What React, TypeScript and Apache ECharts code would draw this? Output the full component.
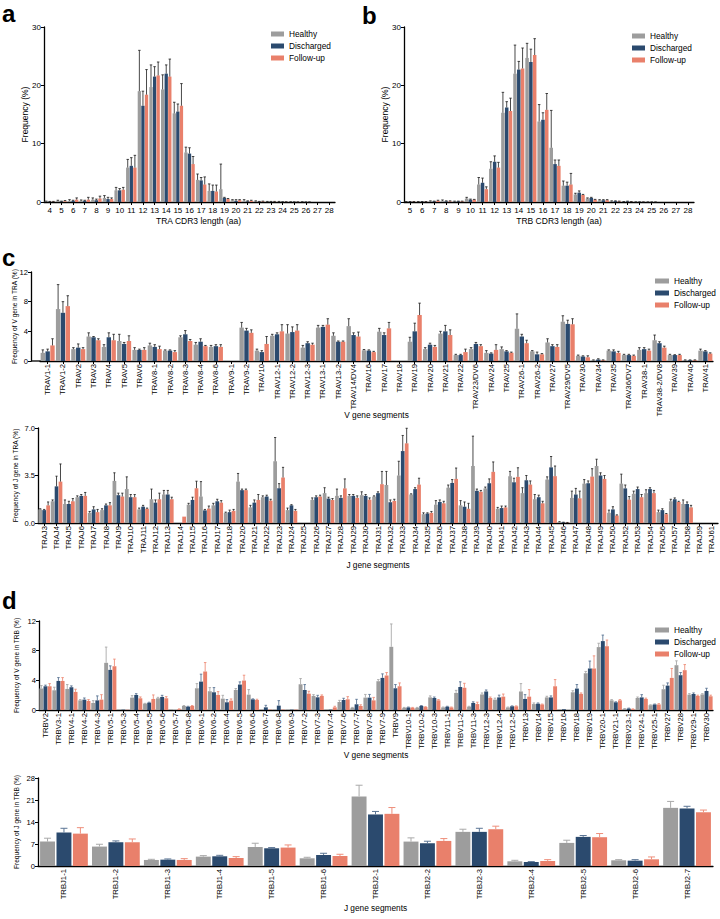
import React, { useEffect, useRef } from "react";
import * as echarts from "echarts";

const FONT = "'Liberation Sans', Arial, Helvetica, sans-serif";
const SERIES_NAMES = ["Healthy", "Discharged", "Follow-up"];
const BAR_COLORS = ["#9d9d9d", "#2b4a6e", "#e9806b"];
const ERR_BLACK = ["#1a1a1a", "#1a1a1a", "#1a1a1a"];
const ERR_COLORED = ["#a9a9a9", "#5b7594", "#ee8f7b"];

// ---------- a: TRA CDR3 length ----------
const traLenCats = ["4","5","6","7","8","9","10","11","12","13","14","15","16","17","18","19","20","21","22","23","24","25","26","27","28"];
const traLenHealthy =      [0.1,0.2,0.2,0.2,0.4,0.7,2.0,5.9,19.0,19.7,19.3,15.2,8.5,3.8,1.9,2.2,0.3,0.2,0.1,0.05,0.05,0.02,0.02,0,0];
const traLenHealthyHi =    [0.15,0.3,0.4,0.35,0.7,1.1,2.5,7.3,26.0,23.5,21.8,17.1,9.4,4.8,3.1,6.5,0.4,0.4,0.2,0.1,0.1,0.05,0.05,0,0];
const traLenDischarged =   [0.05,0.1,0.2,0.2,0.3,0.5,2.0,6.2,16.5,21.5,22.0,15.5,8.3,3.7,1.9,0.7,0.2,0.1,0.05,0.05,0.03,0.02,0.01,0,0];
const traLenDischargedHi = [0.1,0.15,0.3,0.3,0.5,0.8,2.3,7.6,19.0,23.2,23.5,16.8,9.3,4.2,2.9,0.8,0.4,0.2,0.1,0.1,0.05,0.03,0.02,0,0];
const traLenFollowup =     [0.05,0.15,0.4,0.4,0.6,0.5,2.1,5.9,18.4,21.7,21.5,16.5,6.5,3.0,1.8,0.5,0.3,0.2,0.1,0.05,0.03,0.02,0.01,0,0];
const traLenFollowupHi =   [0.1,0.25,0.7,0.8,1.0,0.7,2.5,8.0,22.7,24.0,24.5,20.3,7.8,4.3,2.9,0.6,0.4,0.3,0.15,0.1,0.05,0.03,0.02,0,0];

// ---------- b: TRB CDR3 length ----------
const trbLenCats = ["5","6","7","8","9","10","11","12","13","14","15","16","17","18","19","20","21","22","23","24","25","26","27","28"];
const trbLenHealthy =      [0.05,0.05,0.1,0.2,0.1,0.6,3.0,5.7,15.3,22.0,24.7,13.8,9.3,2.8,1.3,0.6,0.3,0.1,0.05,0.02,0.01,0,0,0];
const trbLenHealthyHi =    [0.08,0.08,0.2,0.35,0.15,0.8,4.2,6.9,18.8,26.9,27.2,16.7,15.7,3.6,1.5,0.7,0.4,0.2,0.08,0.03,0.02,0,0,0];
const trbLenDischarged =   [0.05,0.05,0.1,0.1,0.1,0.4,3.3,6.9,16.2,22.7,24.0,14.1,6.5,2.8,1.6,0.7,0.3,0.15,0.1,0.02,0.01,0,0,0];
const trbLenDischargedHi = [0.08,0.08,0.15,0.2,0.15,0.5,4.1,7.9,17.2,24.1,26.2,15.3,7.2,3.4,1.9,0.8,0.4,0.2,0.15,0.03,0.02,0,0,0];
const trbLenFollowup =     [0.05,0.05,0.2,0.1,0.1,0.4,2.2,5.9,15.6,22.9,25.2,15.8,6.2,3.0,1.2,0.4,0.3,0.1,0.05,0.02,0.01,0,0,0];
const trbLenFollowupHi =   [0.08,0.08,0.3,0.2,0.15,0.45,2.6,6.8,17.8,26.4,28.0,18.6,7.2,4.9,1.3,0.45,0.4,0.15,0.08,0.03,0.02,0,0,0];

// ---------- c (top): TRAV ----------
const travCats = ["TRAV1-1","TRAV1-2","TRAV2","TRAV3","TRAV4","TRAV5","TRAV6","TRAV8-1","TRAV8-2","TRAV8-3","TRAV8-4","TRAV8-6","TRAV9-1","TRAV9-2","TRAV10","TRAV12-1","TRAV12-2","TRAV12-3","TRAV13-1","TRAV13-2","TRAV14/DV4","TRAV16","TRAV17","TRAV18","TRAV19","TRAV20","TRAV21","TRAV22","TRAV23/DV6","TRAV24","TRAV25","TRAV26-1","TRAV26-2","TRAV27","TRAV29/DV5","TRAV30","TRAV34","TRAV35","TRAV36/DV7","TRAV38-1","TRAV38-2/DV8","TRAV39","TRAV40","TRAV41"];
const travHealthy =      [1.1,7.0,1.6,3.3,1.9,2.7,1.5,2.1,1.4,3.2, 2.2,1.9,0,4.5,1.4,3.4,3.7,1.8,4.5,3.4, 4.7,1.45,3.95,0,2.6,1.6,3.7,0.8,1.6,1.1, 1.6,4.35,1.3,2.5,5.3,0.7,0.1,1.4,0.8,1.5, 2.8,0.8,0.1,1.4];
const travHealthyHi =    [1.5,10.3,1.8,3.8,2.2,3.6,1.8,2.4,1.5,3.4, 2.5,2.1,0,5.2,1.6,3.6,4.9,2.1,4.8,3.8, 5.7,1.55,4.4,0,3.2,1.8,4.0,0.9,1.8,1.4, 1.9,6.35,1.4,3.0,6.1,0.8,0.15,1.5,0.9,1.8, 3.5,0.9,0.15,1.6];
const travDischarged =   [1.3,6.5,1.8,3.2,3.2,2.3,1.5,1.9,1.4,3.6, 2.6,2.0,0,4.1,1.2,3.6,3.9,2.4,4.6,2.6, 3.5,1.4,3.5,0,4.0,2.2,4.0,0.8,2.3,1.0, 1.3,3.3,0.9,2.0,5.0,0.6,0.2,1.3,0.8,1.6, 2.4,0.8,0.1,1.3];
const travDischargedHi = [1.6,8.0,2.3,3.3,3.8,2.5,1.6,2.2,1.5,4.1, 3.0,2.2,0,4.4,1.4,3.8,4.6,2.6,4.8,2.7, 3.8,1.5,3.8,0,5.1,2.4,4.8,0.9,2.5,1.1, 1.4,3.6,1.2,2.2,5.5,0.7,0.3,1.5,0.9,1.8, 2.6,0.85,0.15,1.4];
const travFollowup =     [2.1,7.4,1.6,2.8,2.8,2.7,1.5,1.6,1.2,2.7, 2.0,1.9,0,3.8,2.3,4.0,4.1,2.2,4.9,2.6, 3.3,1.2,4.4,0,6.2,1.9,3.5,1.2,2.0,1.5, 1.1,2.4,0.9,1.9,4.95,0.5,0.1,1.1,0.7,1.4, 1.8,0.8,0.1,1.0];
const travFollowupHi =   [3.0,8.8,1.8,3.0,3.6,3.4,1.8,2.0,1.4,2.9, 2.1,2.2,0,4.2,3.3,4.9,4.9,2.4,5.7,2.7, 3.9,1.3,5.2,0,7.8,2.1,4.2,1.6,2.2,2.2, 1.2,2.8,1.0,2.2,5.7,0.7,0.15,1.3,0.8,1.6, 2.0,0.9,0.15,1.1];

// ---------- c (bottom): TRAJ ----------
const trajCats = ["TRAJ3","TRAJ4","TRAJ5","TRAJ6","TRAJ7","TRAJ8","TRAJ9","TRAJ10","TRAJ11","TRAJ12","TRAJ13","TRAJ14","TRAJ15","TRAJ16","TRAJ17","TRAJ18","TRAJ20","TRAJ21","TRAJ22","TRAJ23","TRAJ24","TRAJ25","TRAJ26","TRAJ27","TRAJ28","TRAJ29","TRAJ30","TRAJ31","TRAJ32","TRAJ33","TRAJ34","TRAJ35","TRAJ36","TRAJ37","TRAJ38","TRAJ39","TRAJ40","TRAJ41","TRAJ42","TRAJ43","TRAJ44","TRAJ45","TRAJ46","TRAJ47","TRAJ48","TRAJ49","TRAJ50","TRAJ52","TRAJ53","TRAJ54","TRAJ56","TRAJ57","TRAJ58","TRAJ59","TRAJ61"];
const trajHealthy =      [1.0,1.6,1.4,1.9,0.75,0.95,3.1,2.5,1.0,1.75, 2.1,0,1.35,1.95,1.3,0.75,3.05,1.15,1.9,4.55, 0.95,0,1.7,2.2,2.0,2.0,2.05,1.95,2.8,3.5, 2.1,0.65,1.35,2.6,1.3,4.2,2.55,1.05,3.45,2.2, 1.75,3.2,0.08,1.85,2.9,4.2,0.75,2.9,2.15,2.2, 0.8,1.6,1.4,0,0];
const trajHealthyHi =    [1.05,1.7,1.7,2.0,0.85,1.05,3.7,3.4,1.1,2.5, 2.4,0,1.45,3.05,1.45,0.8,3.65,1.3,2.0,6.3, 1.1,0,1.85,2.6,2.5,2.1,2.3,2.0,3.8,4.55, 2.15,0.75,1.65,2.8,1.65,6.4,2.65,1.15,3.8,2.6, 2.1,3.4,0.1,2.35,3.2,4.7,0.95,3.6,2.35,2.45, 0.95,1.75,1.7,0,0];
const trajDischarged =   [0.95,2.7,1.4,2.0,1.0,1.3,2.05,1.9,1.2,1.5, 2.1,0,1.7,0.93,1.6,0.8,2.42,1.5,1.95,2.56, 1.3,0,1.9,1.8,1.85,2.0,2.0,2.2,1.53,5.3, 2.5,0.7,1.55,2.95,1.2,2.37,2.93,1.1,3.0,3.15, 1.9,4.1,0.05,2.1,2.93,3.5,1.0,2.55,2.5,2.5, 0.95,1.75,1.4,0,0];
const trajDischargedHi = [1.0,3.45,1.6,2.1,1.2,1.4,2.2,2.1,1.3,1.7, 2.4,0,1.9,1.0,1.75,0.95,2.5,1.7,2.05,2.9, 1.35,0,2.0,1.9,2.0,2.1,2.1,2.3,1.7,6.45, 2.6,0.75,1.7,3.2,1.55,2.5,3.25,1.25,3.3,3.5, 2.05,4.9,0.06,2.55,3.1,3.7,1.2,2.8,2.65,2.6, 1.05,1.85,1.55,0,0];
const trajFollowup =     [1.3,3.05,1.6,2.0,0.8,1.3,1.95,1.9,1.05,1.75, 1.75,0.47,2.56,1.06,1.5,0.9,2.42,1.7,1.65,3.35, 0.9,0,1.95,1.7,2.55,1.85,1.72,2.86,1.63,5.87, 2.83,0.75,1.45,3.25,1.05,2.3,3.77,1.15,3.4,2.83, 1.45,3.45,0.03,1.82,3.42,3.25,0.55,1.72,1.9,2.2, 0.65,1.55,1.15,0,0];
const trajFollowupHi =   [1.55,4.35,1.8,2.25,1.0,1.5,2.2,2.1,1.1,2.2, 1.9,0.47,3.08,1.25,1.65,1.0,2.5,2.1,1.75,4.1, 1.0,0,2.05,1.8,3.25,2.0,1.85,3.8,1.75,6.98, 3.3,0.85,1.6,4.05,1.45,2.4,4.5,1.25,4.07,3.1, 1.6,4.2,0.04,2.35,4.0,3.5,0.6,1.95,2.1,2.4, 0.7,1.6,1.3,0,0];

// ---------- d (top): TRBV ----------
const trbvCats = ["TRBV2","TRBV3-1","TRBV4-1","TRBV4-2","TRBV4-3","TRBV5-1","TRBV5-3","TRBV5-4","TRBV5-5","TRBV5-6","TRBV5-7","TRBV5-8","TRBV6-1","TRBV6-2","TRBV6-4","TRBV6-5","TRBV6-6","TRBV6-7","TRBV6-8","TRBV6-9","TRBV7-2","TRBV7-3","TRBV7-4","TRBV7-6","TRBV7-7","TRBV7-8","TRBV7-9","TRBV9","TRBV10-1","TRBV10-2","TRBV10-3","TRBV11-1","TRBV11-2","TRBV11-3","TRBV12-3","TRBV12-4","TRBV12-5","TRBV13","TRBV14","TRBV15","TRBV16","TRBV18","TRBV19","TRBV20-1","TRBV21-1","TRBV23-1","TRBV24-1","TRBV25-1","TRBV27","TRBV28","TRBV29-1","TRBV30"];
const trbvHealthy =      [2.9,2.66,2.84,1.3,0.95,6.36,0.05,1.67,0.86,1.58, 0.05,0.54,2.93,2.53,1.53,2.7,2.07,0.05,0.05,0.05, 3.47,1.9,0.05,1.08,0.3,1.67,3.88,8.52,0.3,0.3, 1.7,0.35,2.3,0.45,2.1,1.4,0.35,2.5,0.8,1.7, 0.05,2.39,4.96,8.48,1.3,0.15,1.62,0.65,2.8,6.04, 2.07,2.1];
const trbvHealthyHi =    [3.3,3.07,3.43,1.4,1.26,8.48,0.05,1.94,0.9,1.71, 0.05,0.6,3.56,3.02,1.98,2.89,2.75,0.05,0.05,0.05, 4.24,2.07,0.05,1.3,0.35,2.1,4.1,11.6,0.35,0.35, 1.9,0.4,2.65,0.5,2.3,1.6,0.4,3.56,0.95,1.85, 0.05,2.6,5.2,9.0,1.4,0.2,1.75,0.7,3.34,6.63, 2.2,2.2];
const trbvDischarged =   [3.2,3.92,3.07,1.4,1.3,5.41,0.05,2.03,0.99,1.76, 0,0.45,3.83,2.39,1.04,3.43,1.44,0.36,0.59,0.05, 2.7,1.71,0.05,1.35,0.77,1.67,4.33,2.93,0.35,0.55, 1.62,0.45,3.1,0.95,2.5,1.7,0.5,1.49,0.85,1.7, 0.1,2.89,5.6,9.29,1.04,0.2,1.7,0.75,3.29,4.69, 2.16,2.57];
const trbvDischargedHi = [3.35,4.37,3.25,1.62,1.9,5.95,0.05,2.2,1.05,1.98, 0,0.5,4.83,3.02,1.4,3.79,1.5,0.63,1.26,0.05, 3.43,1.98,0.05,1.58,1.44,2.1,4.87,3.43,0.4,0.6, 1.75,0.5,3.8,1.1,2.7,2.0,0.55,2.07,0.95,1.9, 0.1,3.43,6.6,10.1,1.1,0.25,2.07,0.8,3.65,5.05, 2.3,2.93];
const trbvFollowup =     [3.2,3.92,2.44,1.22,1.4,5.9,0.05,1.58,1.49,1.58, 0.1,0.54,5.19,2.03,1.26,3.97,1.35,0.05,0.05,0.05, 2.2,1.9,0.36,1.44,0.54,1.3,4.65,3.2,0.3,0.4, 1.3,0.35,3.0,0.8,1.62,1.8,0.5,1.8,0.75,3.2, 0,2.17,5.6,8.6,1.3,0.1,1.49,0.75,4.33,5.37, 1.9,1.85];
const trbvFollowupHi =   [3.56,4.37,2.8,1.4,2.07,6.86,0.05,1.76,2.03,1.8, 0.15,0.6,6.4,2.48,1.49,4.69,1.45,0.05,0.05,0.05, 2.53,2.03,0.5,1.8,0.7,1.7,5.05,3.65,0.35,0.45, 1.4,0.4,3.6,1.05,1.75,2.15,0.55,2.75,0.8,4.1, 0,2.3,7.3,9.43,1.4,0.15,1.6,0.85,5.6,6.13, 2.0,2.0];

// ---------- d (bottom): TRBJ ----------
const trbjCats = ["TRBJ1-1","TRBJ1-2","TRBJ1-3","TRBJ1-4","TRBJ1-5","TRBJ1-6","TRBJ2-1","TRBJ2-2","TRBJ2-3","TRBJ2-4","TRBJ2-5","TRBJ2-6","TRBJ2-7"];
const trbjHealthy =      [7.77,6.18,1.92,2.98,6.07,2.45,22.15,7.77,10.86,1.49,7.35,1.81,18.5];
const trbjHealthyHi =    [8.84,6.92,2.13,3.3,7.24,2.77,25.7,8.95,11.7,1.81,8.2,2.02,20.55];
const trbjDischarged =   [10.65,7.56,2.02,3.09,5.64,3.51,16.4,7.24,10.86,1.28,9.27,1.7,18.3];
const trbjDischargedHi = [12.0,7.98,2.24,3.4,5.86,4.05,17.36,7.88,12.0,1.4,9.7,2.02,19.0];
const trbjFollowup =     [10.3,7.56,1.92,2.55,5.86,3.19,16.6,7.98,11.7,1.6,9.16,2.13,17.1];
const trbjFollowupHi =   [12.2,8.6,2.34,2.98,6.7,3.73,18.6,8.73,12.67,2.02,10.33,2.88,17.8];

type Panel = {
  cats: string[];
  vals: number[][];
  his: number[][];
  grid: { left: number; top: number; width: number; height: number };
  yOffset: number;
  yMax: number;
  yInterval: number;
  yFmt?: (v: number) => string;
  yName: string;
  yNameGap: number;
  yNameSize: number;
  yLabelSize: number;
  xName: string;
  xNameGap: number;
  xNameSize: number;
  xNamePadLeft: number;
  xLabelSize: number;
  rotate: number;
  showXTick: boolean;
  catGap: number;
  barGap: number;
  errColors: string[];
  capW: number;
  errW: number;
};

const panels: Panel[] = [
  {
    cats: traLenCats,
    vals: [traLenHealthy, traLenDischarged, traLenFollowup],
    his: [traLenHealthyHi, traLenDischargedHi, traLenFollowupHi],
    grid: { left: 44, top: 27, width: 291, height: 175 },
    yOffset: 0, yMax: 30, yInterval: 10,
    yName: "Frequency (%)", yNameGap: 15, yNameSize: 8.5, yLabelSize: 8,
    xName: "TRA CDR3 length (aa)", xNameGap: 14, xNameSize: 8.5, xNamePadLeft: 18,
    xLabelSize: 8, rotate: 0, showXTick: true,
    catGap: 0.1, barGap: 0.08, errColors: ERR_BLACK, capW: 2.5, errW: 0.8,
  },
  {
    cats: trbLenCats,
    vals: [trbLenHealthy, trbLenDischarged, trbLenFollowup],
    his: [trbLenHealthyHi, trbLenDischargedHi, trbLenFollowupHi],
    grid: { left: 404, top: 27, width: 290, height: 175 },
    yOffset: 0, yMax: 30, yInterval: 10,
    yName: "Frequency (%)", yNameGap: 15, yNameSize: 8.5, yLabelSize: 8,
    xName: "TRB CDR3 length (aa)", xNameGap: 14, xNameSize: 8.5, xNamePadLeft: 20,
    xLabelSize: 8, rotate: 0, showXTick: true,
    catGap: 0.08, barGap: 0.08, errColors: ERR_BLACK, capW: 2.5, errW: 0.8,
  },
  {
    cats: travCats,
    vals: [travHealthy, travDischarged, travFollowup],
    his: [travHealthyHi, travDischargedHi, travFollowupHi],
    grid: { left: 40, top: 272, width: 673, height: 89 },
    yOffset: 9, yMax: 12, yInterval: 4,
    yName: "Frequency of V gene in TRA (%)", yNameGap: 13, yNameSize: 6.6, yLabelSize: 7.6,
    xName: "V gene segments", xNameGap: 50, xNameSize: 8.3, xNamePadLeft: 0,
    xLabelSize: 7.7, rotate: 90, showXTick: true,
    catGap: 0.08, barGap: 0.1, errColors: ERR_BLACK, capW: 2.5, errW: 0.8,
  },
  {
    cats: trajCats,
    vals: [trajHealthy, trajDischarged, trajFollowup],
    his: [trajHealthyHi, trajDischargedHi, trajFollowupHi],
    grid: { left: 38, top: 428, width: 680, height: 95 },
    yOffset: 0, yMax: 7, yInterval: 3.5, yFmt: (v: number) => v.toFixed(1),
    yName: "Frequency of J gene in TRA (%)", yNameGap: 19, yNameSize: 6.6, yLabelSize: 7.6,
    xName: "J gene segments", xNameGap: 38, xNameSize: 8.3, xNamePadLeft: 0,
    xLabelSize: 7.7, rotate: 90, showXTick: true,
    catGap: 0.06, barGap: 0.06, errColors: ERR_BLACK, capW: 2.2, errW: 0.8,
  },
  {
    cats: trbvCats,
    vals: [trbvHealthy, trbvDischarged, trbvFollowup],
    his: [trbvHealthyHi, trbvDischargedHi, trbvFollowupHi],
    grid: { left: 39, top: 621, width: 674, height: 89 },
    yOffset: 0, yMax: 12, yInterval: 4,
    yName: "Frequency of V gene in TRB (%)", yNameGap: 19, yNameSize: 6.6, yLabelSize: 7.6,
    xName: "V gene segments", xNameGap: 41, xNameSize: 8.3, xNamePadLeft: 0,
    xLabelSize: 7.7, rotate: 90, showXTick: true,
    catGap: 0.06, barGap: 0.06, errColors: ERR_COLORED, capW: 2.5, errW: 0.9,
  },
  {
    cats: trbjCats,
    vals: [trbjHealthy, trbjDischarged, trbjFollowup],
    his: [trbjHealthyHi, trbjDischargedHi, trbjFollowupHi],
    grid: { left: 38, top: 778, width: 675, height: 88 },
    yOffset: 0, yMax: 28, yInterval: 7,
    yName: "Frequency of J gene in TRB (%)", yNameGap: 18, yNameSize: 6.6, yLabelSize: 7.6,
    xName: "J gene segments", xNameGap: 38, xNameSize: 8.3, xNamePadLeft: 0,
    xLabelSize: 7.7, rotate: 90, showXTick: false,
    catGap: 0.08, barGap: 0.1, errColors: ERR_COLORED, capW: 7, errW: 1,
  },
];

function errorBarSeries(gi: number, p: Panel, k: number) {
  const vals = p.vals[k];
  const his = p.his[k];
  return {
    type: "custom",
    name: `err-${gi}-${k}`,
    xAxisIndex: gi,
    yAxisIndex: gi,
    silent: true,
    z: 5,
    data: p.cats.map((_, i) => [i, vals[i], his[i]]),
    encode: { x: 0, y: 1 },
    renderItem: (_params: any, api: any) => {
      const i = api.value(0);
      const v = api.value(1);
      const hi = api.value(2);
      if (!(hi > v + 1e-9)) return null;
      const band = api.size([1, 0])[0];
      const bw = (band * (1 - p.catGap)) / (3 + 2 * p.barGap);
      const pv = api.coord([i, v]);
      const ph = api.coord([i, hi]);
      const x = pv[0] + (k - 1) * bw * (1 + p.barGap);
      const style = { stroke: p.errColors[k], lineWidth: p.errW };
      return {
        type: "group",
        children: [
          { type: "line", shape: { x1: x, y1: pv[1], x2: x, y2: ph[1] }, style },
          { type: "line", shape: { x1: x - p.capW / 2, y1: ph[1], x2: x + p.capW / 2, y2: ph[1] }, style },
        ],
      };
    },
  };
}

function buildOption() {
  const axisLine = { show: true, lineStyle: { color: "#000", width: 1.3 } };
  const grid = panels.map((p) => ({ ...p.grid, containLabel: false }));
  const xAxis = panels.map((p, i) => ({
    gridIndex: i,
    type: "category",
    data: p.cats,
    axisLine,
    axisTick: { show: p.showXTick, alignWithLabel: true, length: 3, lineStyle: { color: "#000", width: 1 } },
    axisLabel: {
      interval: 0,
      rotate: p.rotate,
      fontSize: p.xLabelSize,
      color: "#000",
      margin: p.rotate ? 3 : 4,
      fontFamily: FONT,
    },
    splitLine: { show: false },
    name: p.xName,
    nameLocation: "middle",
    nameGap: p.xNameGap,
    nameMoveOverlap: false,
    nameTextStyle: { fontSize: p.xNameSize, color: "#000", fontFamily: FONT, padding: [0, 0, 0, p.xNamePadLeft] },
  }));
  const yAxis = panels.map((p, i) => ({
    gridIndex: i,
    type: "value",
    min: 0,
    max: p.yMax,
    interval: p.yInterval,
    offset: p.yOffset,
    axisLine,
    axisTick: { show: true, length: 3, lineStyle: { color: "#000", width: 1 } },
    axisLabel: {
      fontSize: p.yLabelSize,
      color: "#000",
      margin: 3,
      fontFamily: FONT,
      formatter: p.yFmt ? p.yFmt : (v: number) => String(v),
    },
    splitLine: { show: false },
    name: p.yName,
    nameLocation: "middle",
    nameGap: p.yNameGap,
    nameMoveOverlap: false,
    nameTextStyle: { fontSize: p.yNameSize, color: "#000", fontFamily: FONT },
  }));
  const series: any[] = [];
  panels.forEach((p, gi) => {
    for (let k = 0; k < 3; k++) {
      series.push({
        type: "bar",
        name: SERIES_NAMES[k],
        xAxisIndex: gi,
        yAxisIndex: gi,
        data: p.vals[k],
        itemStyle: { color: BAR_COLORS[k] },
        barCategoryGap: `${p.catGap * 100}%`,
        barGap: `${p.barGap * 100}%`,
        silent: true,
      });
    }
    for (let k = 0; k < 3; k++) series.push(errorBarSeries(gi, p, k));
  });
  const legendBase = {
    orient: "vertical",
    icon: "rect",
    itemHeight: 5,
    itemGap: 2,
    itemStyle: { borderWidth: 0 },
    textStyle: { fontSize: 8.3, color: "#000", fontFamily: FONT, lineHeight: 10 },
    data: SERIES_NAMES,
    selectedMode: false,
  };
  const legend = [
    { ...legendBase, left: 266, top: 24, itemWidth: 13 },
    { ...legendBase, left: 627, top: 26, itemWidth: 13 },
    { ...legendBase, left: 650, top: 271, itemWidth: 14 },
    { ...legendBase, left: 650, top: 620, itemWidth: 14 },
  ];
  const letter = (t: string, left: number, top: number) => ({
    type: "text",
    left,
    top,
    style: { text: t, fill: "#000", font: `bold 24px ${FONT}` },
  });
  const graphic = [
    letter("a", 2, 1),
    letter("b", 362, 3),
    letter("c", 2, 245),
    letter("d", 2, 588),
    { type: "line", shape: { x1: 31, y1: 361, x2: 41, y2: 361 }, style: { stroke: "#000", lineWidth: 1.3 } },
  ];
  return {
    animation: false,
    backgroundColor: "#fff",
    textStyle: { fontFamily: FONT },
    grid,
    xAxis,
    yAxis,
    series,
    legend,
    graphic,
  };
}

export default function App() {
  const ref = useRef<HTMLDivElement>(null);
  useEffect(() => {
    if (!ref.current) return;
    const chart = echarts.init(ref.current, undefined, { renderer: "svg" });
    chart.setOption(buildOption() as any);
    return () => chart.dispose();
  }, []);
  return (
    <div
      ref={ref}
      style={{ position: "absolute", left: 0, top: 0, width: 720, height: 919, background: "#fff" }}
    />
  );
}
